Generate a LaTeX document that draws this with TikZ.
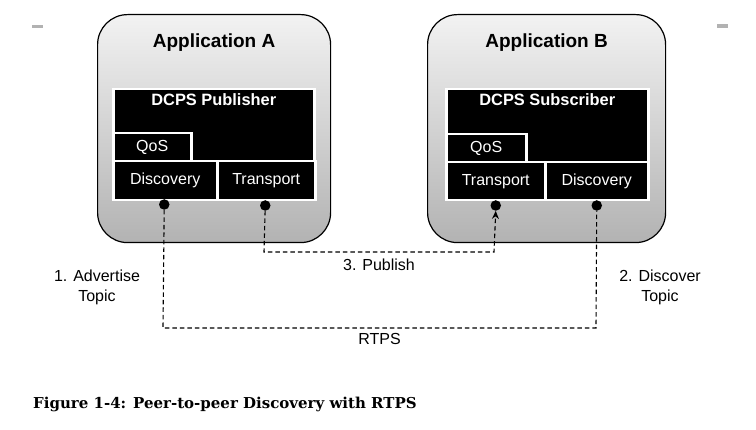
\documentclass[tikz,border=0pt]{standalone}
\usepackage{fontspec}
\setmainfont{Liberation Sans}
\newfontfamily\capfont{DejaVu Serif}
\usetikzlibrary{arrows.meta, positioning, calc}

\begin{document}
\begin{tikzpicture}[
    x=1pt, y=-1pt,
    app/.style={draw, line width=1.2pt, rounded corners=30pt,
                top color=black!5, bottom color=black!30,
                anchor=north west},
    apptitle/.style={font=\fontsize{19}{21}\selectfont\bfseries},
    blk/.style={draw=white, line width=2.5pt, fill=black, text=white,
                anchor=north west, inner sep=0pt, text height=12pt,
                text depth=4pt, font=\fontsize{16}{18}\selectfont},
    blktitle/.style={text=white, font=\fontsize{16.4}{18}\selectfont\bfseries},
    dot/.style={circle, fill=black, inner sep=0pt, minimum size=10.5pt},
    link/.style={draw, line width=1.1pt, dash pattern=on 4.5pt off 3pt},
    note/.style={font=\fontsize{16}{20}\selectfont, align=center}
]

    \useasboundingbox (0,0) rectangle (756,430);

    % small grey marks at the top
    \fill[black!30] (32,25) rectangle (43,28);
    \fill[black!30] (717,24) rectangle (728,28);

    % Application A
    \node[app, minimum width=233pt, minimum height=228pt] (appA) at (97,14) {};
    \node[apptitle, below=16pt of appA.north] (titleA) {Application A};
    \node[blk, minimum width=201pt, minimum height=72pt] (pubA) at (112,88) {};
    \node[blktitle, below=2pt of pubA.north] (pubAtitle) {DCPS Publisher};
    \node[blk, minimum width=78pt, minimum height=28pt] (qosA) at (112,132) {QoS};
    \node[blk, minimum width=104pt, minimum height=39pt] (discA) at (112,160) {Discovery};
    \node[blk, minimum width=98pt, minimum height=39pt] (trA) at (216,160) {Transport};

    % Application B
    \node[app, minimum width=238pt, minimum height=228pt] (appB) at (427,14) {};
    \node[apptitle, below=16pt of appB.north] (titleB) {Application B};
    \node[blk, minimum width=202pt, minimum height=73pt] (subB) at (445,88) {};
    \node[blktitle, below=2pt of subB.north] (subBtitle) {DCPS Subscriber};
    \node[blk, minimum width=80pt, minimum height=28pt] (qosB) at (445,133) {QoS};
    \node[blk, minimum width=99pt, minimum height=38pt] (trB) at (445,161) {Transport};
    \node[blk, minimum width=103pt, minimum height=38pt] (discB) at (544,161) {Discovery};

    % end points
    \node[dot] (dotDA) at ($(discA.south)+(-1,3)$) {};
    \node[dot] (dotTA) at ($(trA.south)+(-1,4)$) {};
    \node[dot] (dotTB) at ($(trB.south)+(0,4)$) {};
    \node[dot] (dotDB) at ($(discB.south)+(0,4)$) {};

    \coordinate (pubL) at (264,252);
    \coordinate (pubR) at (494,252);
    \coordinate (rtpsL) at (163,328);
    \coordinate (rtpsR) at (596,328);

    % publish path
    \draw[link, -{Stealth[length=8pt, width=7pt]}] (dotTA) -- (pubL)
        -- node[below=3pt, note] (pubtext) {3. Publish} (pubR) -- (dotTB.south);

    % discovery path
    \draw[link] (dotDA) -- (rtpsL)
        -- node[below=1pt, note] (rtpstext) {RTPS} (rtpsR) -- (dotDB);

    \node[note] (advert) at (97,287) {1. Advertise\\Topic};
    \node[note] (discov) at (660,287) {2. Discover\\Topic};

    % caption
    \node[anchor=base west, inner sep=0pt,
          font=\capfont\bfseries\fontsize{15}{17}\selectfont] (caption) at (33,409)
        {Figure 1-4: Peer-to-peer Discovery with RTPS};

\end{tikzpicture}
\end{document}
